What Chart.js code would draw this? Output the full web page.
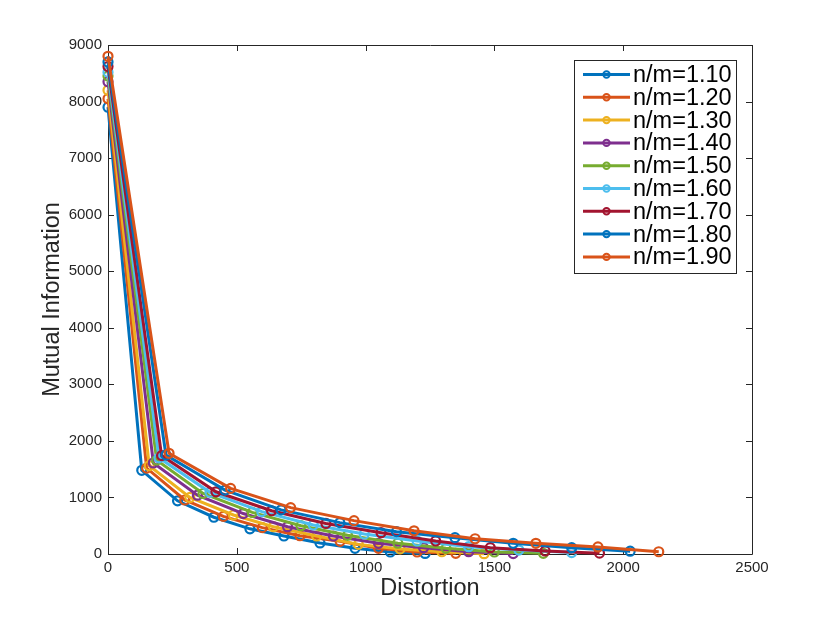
<!DOCTYPE html>
<html><head><meta charset="utf-8">
<script src="https://cdn.jsdelivr.net/npm/chart.js@4.4.0/dist/chart.umd.min.js"></script>
<style>html,body{margin:0;padding:0;background:#fff;}#wrap{width:830px;height:623px;position:relative;}</style>
</head><body><div id="wrap"><canvas id="c"></canvas></div>
<script>
// ---- data ----
const seriesLabels = ['n/m=1.10','n/m=1.20','n/m=1.30','n/m=1.40','n/m=1.50','n/m=1.60','n/m=1.70','n/m=1.80','n/m=1.90'];
const seriesColors = ['#0072BD','#D95319','#EDB120','#7E2F8E','#77AC30','#4DBEEE','#A2142F','#0072BD','#D95319'];

const dist_110 = [0,131,270,411,551,683,823,959,1096,1231];
const mi_110   = [7900,1480,940,650,445,318,195,100,35,10];
const dist_120 = [0,150,298,448,599,745,901,1050,1200,1350];
const mi_120   = [8050,1520,955,665,466,324,225,100,35,12];
const dist_130 = [0,160,318,487,642,810,972,1134,1296,1460];
const mi_130   = [8200,1560,1000,690,483,318,170,90,40,5];
const dist_140 = [0,176,347,525,697,875,1050,1225,1400,1573];
const mi_140   = [8350,1610,1040,715,483,318,189,112,41,8];
const dist_150 = [0,189,369,560,749,930,1125,1312,1500,1690];
const mi_150   = [8450,1660,1070,735,500,330,190,100,35,12];
const dist_160 = [0,198,396,597,797,995,1200,1400,1595,1800];
const mi_160   = [8520,1700,1090,750,513,354,230,129,70,25];
const dist_170 = [0,208,419,635,846,1060,1272,1484,1697,1908];
const mi_170   = [8620,1740,1100,765,540,377,230,112,53,15];
const dist_180 = [0,225,454,672,900,1120,1347,1573,1800,2027];
const mi_180   = [8700,1750,1130,780,555,395,289,189,112,50];
const dist_190 = [0,237,476,709,955,1188,1425,1661,1902,2138];
const mi_190   = [8800,1780,1160,820,590,410,270,189,125,40];

const xTickValues = [0,500,1000,1500,2000,2500];
const yTickValues = [0,1000,2000,3000,4000,5000,6000,7000,8000,9000];
const xTitle = 'Distortion';
const yTitle = 'Mutual Information';

const distSeries = [dist_110,dist_120,dist_130,dist_140,dist_150,dist_160,dist_170,dist_180,dist_190];
const miSeries   = [mi_110,mi_120,mi_130,mi_140,mi_150,mi_160,mi_170,mi_180,mi_190];

const AX = '#262626';
const FONT = "'Liberation Sans', Arial, Helvetica, sans-serif";

const datasets = seriesLabels.map((lab, i) => ({
  label: lab,
  data: distSeries[i].map((x, j) => ({x: x, y: miSeries[i][j]})),
  borderColor: seriesColors[i],
  backgroundColor: seriesColors[i],
  borderWidth: 3,
  pointRadius: 4.5,
  pointHoverRadius: 4.5,
  pointBorderWidth: 2.2,
  pointBorderColor: seriesColors[i],
  pointBackgroundColor: 'rgba(0,0,0,0)',
  tension: 0,
  clip: false,
  order: seriesLabels.length - i
}));

const boxPlugin = {
  id: 'boxPlugin',
  beforeDatasetsDraw(chart) {
    const {ctx, chartArea: a, scales: {x, y}} = chart;
    ctx.save();
    ctx.strokeStyle = AX;
    ctx.lineWidth = 1;
    ctx.beginPath();
    ctx.rect(a.left + 0.5, a.top + 0.5, a.right - a.left, a.bottom - a.top);
    ctx.stroke();
    const tl = 6;
    ctx.beginPath();
    xTickValues.forEach(v => {
      const p = Math.round(x.getPixelForValue(v)) + 0.5;
      ctx.moveTo(p, a.bottom); ctx.lineTo(p, a.bottom - tl);
      ctx.moveTo(p, a.top); ctx.lineTo(p, a.top + tl);
    });
    yTickValues.forEach(v => {
      const p = Math.round(y.getPixelForValue(v)) + 0.5;
      ctx.moveTo(a.left, p); ctx.lineTo(a.left + tl, p);
      ctx.moveTo(a.right, p); ctx.lineTo(a.right - tl, p);
    });
    ctx.stroke();
    ctx.restore();
  },
  afterDraw(chart) {
    const {ctx} = chart;
    const bx = 574, by = 60, bw = 162, bh = 213;
    ctx.save();
    ctx.fillStyle = '#fff';
    ctx.fillRect(bx, by, bw, bh);
    ctx.strokeStyle = AX;
    ctx.lineWidth = 1;
    ctx.strokeRect(bx + 0.5, by + 0.5, bw, bh);
    ctx.font = '23.5px ' + FONT;
    ctx.textBaseline = 'middle';
    ctx.textAlign = 'left';
    chart.data.datasets.forEach((ds, i) => {
      const cy = 74.5 + i * 22.8;
      ctx.strokeStyle = ds.borderColor;
      ctx.lineWidth = 3;
      ctx.beginPath();
      ctx.moveTo(583, cy); ctx.lineTo(630, cy);
      ctx.stroke();
      ctx.lineWidth = 2;
      ctx.beginPath();
      ctx.arc(606.5, cy, 3.2, 0, Math.PI * 2);
      ctx.stroke();
      ctx.fillStyle = '#000';
      ctx.fillText(ds.label, 633, cy + 1);
    });
    ctx.restore();
  }
};

new Chart(document.getElementById('c'), {
  type: 'line',
  data: {datasets},
  options: {
    responsive: true,
    maintainAspectRatio: false,
    animation: false,
    events: [],
    layout: {padding: {top: 45, right: 78, left: 0, bottom: 0}},
    plugins: {legend: {display: false}, tooltip: {enabled: false}},
    scales: {
      x: {
        type: 'linear', min: 0, max: 2500,
        afterBuildTicks: s => { s.ticks = xTickValues.map(v => ({value: v})); },
        afterFit: s => { s.height = 69; },
        grid: {display: false, drawTicks: false},
        border: {display: false},
        ticks: {color: AX, font: {family: FONT, size: 15}, padding: 5, maxRotation: 0, callback: v => String(v)},
        title: {display: true, text: xTitle, color: AX, font: {family: FONT, size: 23.5}, padding: {top: 0, bottom: 20}}
      },
      y: {
        type: 'linear', min: 0, max: 9000,
        afterBuildTicks: s => { s.ticks = yTickValues.map(v => ({value: v})); },
        afterFit: s => { s.width = 108; },
        grid: {display: false, drawTicks: false},
        border: {display: false},
        ticks: {color: AX, font: {family: FONT, size: 15}, padding: 6, callback: v => String(v)},
        title: {display: true, text: yTitle, color: AX, font: {family: FONT, size: 23.5}, padding: {top: 38, bottom: 0}}
      }
    }
  },
  plugins: [boxPlugin]
});
</script></body></html>
